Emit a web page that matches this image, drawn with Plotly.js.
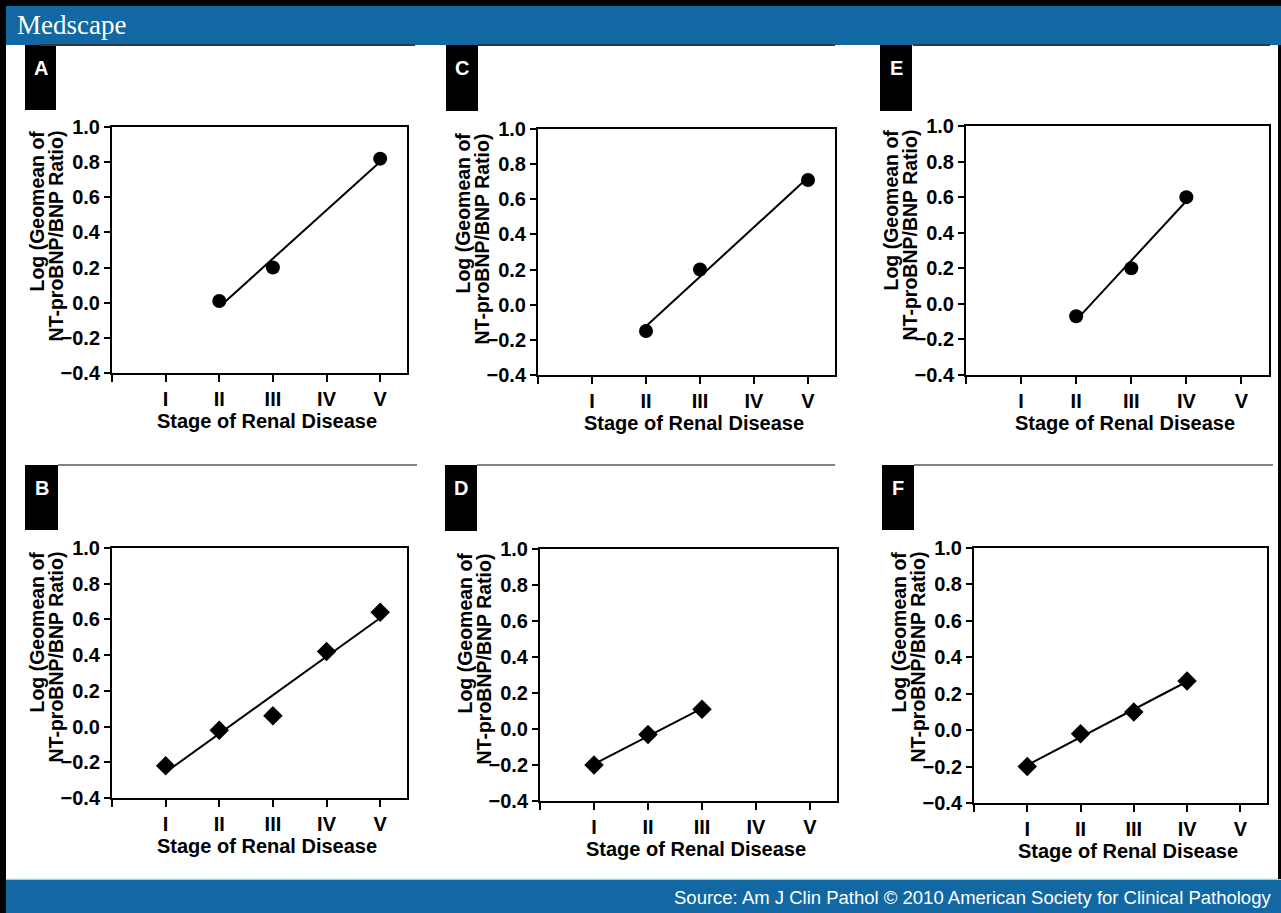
<!DOCTYPE html>
<html>
<head>
<meta charset="utf-8">
<script src="https://cdn.plot.ly/plotly-3.0.1.min.js"></script>
<style>
  html, body { margin: 0; padding: 0; background: #ffffff; }
  #chart { width: 1281px; height: 913px; }
</style>
</head>
<body>
<div id="chart"></div>
<script>
// ---------- Data ----------
const stageLabels = ['I', 'II', 'III', 'IV', 'V'];
const yTickValues = [-0.4, -0.2, 0.0, 0.2, 0.4, 0.6, 0.8, 1.0];

const panelA_stage = ['II', 'III', 'V'];
const panelA_value = [0.01, 0.20, 0.82];

const panelC_stage = ['II', 'III', 'V'];
const panelC_value = [-0.15, 0.20, 0.71];

const panelE_stage = ['II', 'III', 'IV'];
const panelE_value = [-0.07, 0.20, 0.60];

const panelB_stage = ['I', 'II', 'III', 'IV', 'V'];
const panelB_value = [-0.22, -0.02, 0.06, 0.42, 0.64];

const panelD_stage = ['I', 'II', 'III'];
const panelD_value = [-0.20, -0.03, 0.11];

const panelF_stage = ['I', 'II', 'III', 'IV'];
const panelF_value = [-0.20, -0.02, 0.10, 0.27];

const xAxisTitle = 'Stage of Renal Disease';
const yAxisTitleLines = ['Log (Geomean of', 'NT-proBNP/BNP Ratio)'];
const headerText = 'Medscape';
const sourceText = 'Source: Am J Clin Pathol \u00A9 2010 American Society for Clinical Pathology';

// ---------- Layout helpers ----------
const W = 1281, H = 913;
const px = x => x / W;
const py = y => 1 - y / H;

const panels = [
  {label: 'A', stage: panelA_stage, value: panelA_value, symbol: 'circle',  box: [112, 407, 127, 373], tag: [25, 56, 45, 110]},
  {label: 'C', stage: panelC_stage, value: panelC_value, symbol: 'circle',  box: [538, 835, 129, 375], tag: [446, 478, 45, 111]},
  {label: 'E', stage: panelE_stage, value: panelE_value, symbol: 'circle',  box: [966, 1269, 126, 375], tag: [880, 912, 45, 111]},
  {label: 'B', stage: panelB_stage, value: panelB_value, symbol: 'diamond', box: [112, 407, 548, 798], tag: [25, 58, 465, 530]},
  {label: 'D', stage: panelD_stage, value: panelD_value, symbol: 'diamond', box: [540, 837, 549, 801], tag: [445, 477, 465, 531]},
  {label: 'F', stage: panelF_stage, value: panelF_value, symbol: 'diamond', box: [974, 1267, 548, 803], tag: [882, 914, 465, 530]}
];

function fitLine(xs, ys) {
  const n = xs.length;
  const mx = xs.reduce((a, b) => a + b, 0) / n;
  const my = ys.reduce((a, b) => a + b, 0) / n;
  let sxy = 0, sxx = 0;
  for (let i = 0; i < n; i++) { sxy += (xs[i] - mx) * (ys[i] - my); sxx += (xs[i] - mx) ** 2; }
  const slope = sxy / sxx;
  const x0 = Math.min(...xs), x1 = Math.max(...xs);
  return {x: [x0, x1], y: [my + slope * (x0 - mx), my + slope * (x1 - mx)]};
}

const FONT = 'Liberation Sans, Arial, Helvetica, sans-serif';
const boldFont = (size, color) => ({family: FONT, size: size, weight: 700, color: color || '#000000'});
const traces = [];
const layout = {
  width: W, height: H,
  margin: {l: 0, r: 0, t: 0, b: 0},
  paper_bgcolor: '#ffffff',
  plot_bgcolor: '#ffffff',
  showlegend: false,
  font: {family: FONT, color: '#000000'},
  shapes: [],
  annotations: []
};

panels.forEach((p, i) => {
  const k = i === 0 ? '' : String(i + 1);
  const xs = p.stage.map(s => stageLabels.indexOf(s) + 1);
  const fit = fitLine(xs, p.value);
  traces.push({
    type: 'scatter', mode: 'lines', x: fit.x, y: fit.y,
    xaxis: 'x' + k, yaxis: 'y' + k,
    line: {color: '#000000', width: 2}, hoverinfo: 'skip'
  });
  traces.push({
    type: 'scatter', mode: 'markers', x: xs, y: p.value,
    xaxis: 'x' + k, yaxis: 'y' + k,
    marker: {symbol: p.symbol, color: '#000000', size: p.symbol === 'circle' ? 14 : 15, line: {width: 0}},
    name: p.label
  });
  const [x0, x1, y0, y1] = p.box;
  layout['xaxis' + k] = {
    domain: [px(x0), px(x1)], anchor: 'y' + k,
    range: [0, 5.5], tickmode: 'array',
    tickvals: [0, 1, 2, 3, 4, 5], ticktext: [''].concat(stageLabels),
    ticks: 'outside', ticklen: 7, tickwidth: 2, tickcolor: '#000',
    showline: true, linewidth: 2, linecolor: '#000', mirror: true,
    showgrid: false, zeroline: false,
    tickfont: boldFont(20)
  };
  layout['yaxis' + k] = {
    domain: [py(y1), py(y0)], anchor: 'x' + k,
    range: [-0.4, 1.0], tickmode: 'array', tickvals: yTickValues, tickformat: '.1f',
    ticks: 'outside', ticklen: 6, tickwidth: 2, tickcolor: '#000',
    showline: true, linewidth: 2, linecolor: '#000', mirror: true,
    showgrid: false, zeroline: false,
    tickfont: boldFont(20)
  };
  // axis titles
  layout.annotations.push({xref: 'paper', yref: 'paper', x: px((x0 + x1) / 2 + 7), y: py(y1 + 48),
    text: xAxisTitle, showarrow: false, xanchor: 'center', yanchor: 'middle', font: boldFont(20)});
  yAxisTitleLines.forEach((line, j) => {
    layout.annotations.push({xref: 'paper', yref: 'paper', x: px(x0 - 76 + j * 19), y: py(y0 + 2),
      text: line, showarrow: false, textangle: -90,
      xanchor: 'center', yanchor: 'top', font: boldFont(19.5)});
  });
  // panel letter tag
  const [tx0, tx1, ty0, ty1] = p.tag;
  layout.shapes.push({type: 'rect', xref: 'paper', yref: 'paper', x0: px(tx0), x1: px(tx1), y0: py(ty1), y1: py(ty0),
    fillcolor: '#000000', line: {width: 0}, layer: 'below'});
  layout.annotations.push({xref: 'paper', yref: 'paper', x: px((tx0 + tx1) / 2), y: py(ty0 + 23),
    text: p.label, showarrow: false, xanchor: 'center', yanchor: 'middle', font: boldFont(20, '#ffffff')});
});

// header / footer / borders
const S = layout.shapes;
S.push({type: 'rect', xref: 'paper', yref: 'paper', x0: 0, x1: 1, y0: py(45), y1: py(6), fillcolor: '#1268a2', line: {width: 0}, layer: 'below'});
S.push({type: 'rect', xref: 'paper', yref: 'paper', x0: 0, x1: 1, y0: py(6), y1: 1, fillcolor: '#000000', line: {width: 0}, layer: 'below'});
S.push({type: 'rect', xref: 'paper', yref: 'paper', x0: 0, x1: 1, y0: 0, y1: py(879), fillcolor: '#1268a2', line: {width: 0}, layer: 'below'});
S.push({type: 'line', xref: 'paper', yref: 'paper', x0: 0, x1: 1, y0: py(879), y1: py(879), line: {color: '#d8f0f8', width: 1.5}});
S.push({type: 'rect', xref: 'paper', yref: 'paper', x0: 0, x1: px(6), y0: 0, y1: 1, fillcolor: '#000000', line: {width: 0}});
S.push({type: 'rect', xref: 'paper', yref: 'paper', x0: px(1278), x1: 1, y0: py(879), y1: py(45), fillcolor: '#000000', line: {width: 0}});
// separator lines
[[40, 415, 45], [478, 835, 45], [913, 1270, 45], [58, 417, 465], [477, 835, 465], [914, 1273, 465]].forEach(([a, b, y]) => {
  S.push({type: 'line', xref: 'paper', yref: 'paper', x0: px(a), x1: px(b), y0: py(y), y1: py(y),
    line: {color: y === 45 ? '#2b3a48' : '#5a5a5a', width: y === 45 ? 2 : 1.5}});
});

layout.annotations.push({xref: 'paper', yref: 'paper', x: px(15), y: py(25), text: headerText, showarrow: false,
  xanchor: 'left', yanchor: 'middle', font: {family: 'Liberation Serif, Times New Roman, serif', size: 27, color: '#ffffff'}});
layout.annotations.push({xref: 'paper', yref: 'paper', x: px(1273), y: py(897), text: sourceText, showarrow: false,
  xanchor: 'right', yanchor: 'middle', font: {family: FONT, size: 18.5, color: '#ffffff'}});

Plotly.newPlot('chart', traces, layout, {displayModeBar: false, staticPlot: true});
</script>
</body>
</html>
